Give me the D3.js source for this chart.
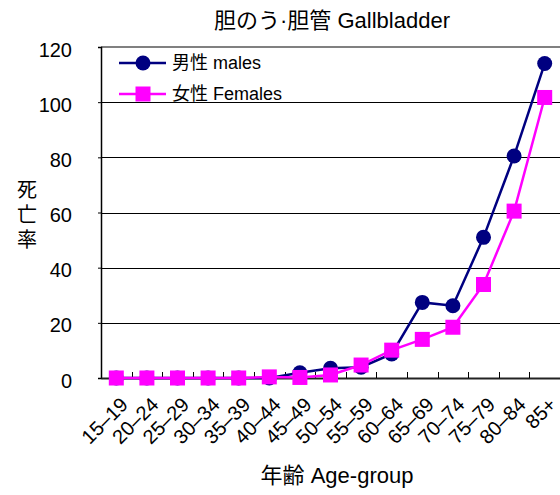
<!DOCTYPE html>
<html>
<head>
<meta charset="utf-8">
<script src="https://cdn.jsdelivr.net/npm/d3@7"></script>
<style>
  body { margin: 0; background: #fff; }
  text { font-family: "Liberation Sans", "Noto Sans CJK JP", sans-serif; fill: #000; }
</style>
</head>
<body>
<div class="chart"></div>
<script>
// Data

const ageGroups = ["15–19", "20–24", "25–29", "30–34", "35–39", "40–44", "45–49",
  "50–54", "55–59", "60–64", "65–69", "70–74", "75–79", "80–84", "85+"];
const males = [0, 0, 0, 0, 0, 0, 1.9, 3.5, 3.9, 8.7, 27.4, 26.2, 51.0, 80.5, 114.0];
const females = [0, 0, 0, 0, 0, 0.4, 0.2, 1.1, 4.7, 10.1, 14.0, 18.4, 33.9, 60.5, 101.7];
const yTicks = [0, 20, 40, 60, 80, 100, 120];

// Measurements

const W = 560;
const H = 495;
const margin = { top: 47, right: 0, bottom: 117, left: 101 };
const w = W - margin.left - margin.right;
const h = H - margin.top - margin.bottom;
const colorMale = "#000080";
const colorFemale = "#ff00ff";

const svg = d3
  .select(".chart")
  .append("svg")
  .attr("width", W)
  .attr("height", H);

const g = svg.append("g").attr("transform", `translate(${margin.left}, ${margin.top})`);

// Scales

const xScale = d3.scaleBand().domain(ageGroups).range([0, w]);
const yScale = d3.scaleLinear().domain([0, 120]).range([h, 0]);
const cx = (d) => xScale(d) + xScale.bandwidth() / 2;

// Gridlines

g.append("g")
  .selectAll("line")
  .data(yTicks.filter((t) => t > 0 && t < 120))
  .enter()
  .append("line")
  .attr("x1", 0)
  .attr("x2", w)
  .attr("y1", (d) => Math.round(yScale(d)) + 0.5)
  .attr("y2", (d) => Math.round(yScale(d)) + 0.5)
  .attr("stroke", "#000")
  .attr("stroke-width", 1);

// top border
g.append("line")
  .attr("x1", 0)
  .attr("x2", w)
  .attr("y1", yScale(120))
  .attr("y2", yScale(120))
  .attr("stroke", "#808080")
  .attr("stroke-width", 2);

// Axes

const yAxis = g
  .append("g")
  .call(d3.axisLeft(yScale).tickValues(yTicks).tickSize(3).tickPadding(26));
yAxis.select(".domain").attr("stroke-width", 1.5);
yAxis
  .selectAll("text")
  .style("font-size", "20px")
  .attr("dy", "0.45em");

const xAxis = g
  .append("g")
  .attr("transform", `translate(0, ${h})`)
  .call(d3.axisBottom(xScale).tickSize(0).tickFormat(""));
xAxis.select(".domain").attr("stroke-width", 2).attr("stroke", "#222");

// inner ticks at category boundaries
g.append("g")
  .selectAll("line")
  .data(ageGroups.slice(1))
  .enter()
  .append("line")
  .attr("x1", (d) => Math.round(xScale(d)) + 0.5)
  .attr("x2", (d) => Math.round(xScale(d)) + 0.5)
  .attr("y1", h)
  .attr("y2", h - 6)
  .attr("stroke", "#000");

// rotated category labels
g.append("g")
  .selectAll("text")
  .data(ageGroups)
  .enter()
  .append("text")
  .attr("transform", (d) => `translate(${cx(d) + 3}, ${h + 18}) rotate(-45)`)
  .attr("text-anchor", "end")
  .attr("dy", "0.7em")
  .style("font-size", "20px")
  .text((d) => d);

// Lines and markers

const line = d3
  .line()
  .x((d, i) => cx(ageGroups[i]))
  .y((d) => yScale(d));

g.append("path")
  .datum(males)
  .attr("d", line)
  .attr("fill", "none")
  .attr("stroke", colorMale)
  .attr("stroke-width", 2.5);

g.append("g")
  .selectAll("circle")
  .data(males)
  .enter()
  .append("circle")
  .attr("cx", (d, i) => cx(ageGroups[i]))
  .attr("cy", (d) => yScale(d))
  .attr("r", 7.5)
  .attr("fill", colorMale);

g.append("path")
  .datum(females)
  .attr("d", line)
  .attr("fill", "none")
  .attr("stroke", colorFemale)
  .attr("stroke-width", 2.5);

const sq = 15;
g.append("g")
  .selectAll("rect")
  .data(females)
  .enter()
  .append("rect")
  .attr("x", (d, i) => cx(ageGroups[i]) - sq / 2)
  .attr("y", (d) => yScale(d) - sq / 2)
  .attr("width", sq)
  .attr("height", sq)
  .attr("fill", colorFemale);

// Legend

const legend = svg.append("g").attr("class", "legend");

const m = legend.append("g").attr("transform", "translate(119, 63)");
m.append("line").attr("x1", 0).attr("x2", 47).attr("stroke", colorMale).attr("stroke-width", 2.5);
m.append("circle").attr("cx", 24).attr("r", 7.5).attr("fill", colorMale);
m.append("text").attr("x", 53).attr("dy", "0.36em").style("font-size", "18px").text("男性 males");

const f = legend.append("g").attr("transform", "translate(119, 94)");
f.append("line").attr("x1", 0).attr("x2", 47).attr("stroke", colorFemale).attr("stroke-width", 2.5);
f.append("rect").attr("x", 24 - sq / 2).attr("y", -sq / 2).attr("width", sq).attr("height", sq).attr("fill", colorFemale);
f.append("text").attr("x", 53).attr("dy", "0.36em").style("font-size", "18px").text("女性 Females");

// Titles

svg.append("text")
  .attr("x", 332)
  .attr("y", 28)
  .attr("text-anchor", "middle")
  .style("font-size", "22px")
  .text("胆のう·胆管 Gallbladder");

svg.append("text")
  .attr("x", 337)
  .attr("y", 483)
  .attr("text-anchor", "middle")
  .style("font-size", "22px")
  .text("年齢 Age-group");

svg.append("g")
  .selectAll("text")
  .data(["死", "亡", "率"])
  .enter()
  .append("text")
  .attr("x", 27)
  .attr("y", (d, i) => 197 + i * 25)
  .attr("text-anchor", "middle")
  .style("font-size", "20px")
  .text((d) => d);
</script>
</body>
</html>
